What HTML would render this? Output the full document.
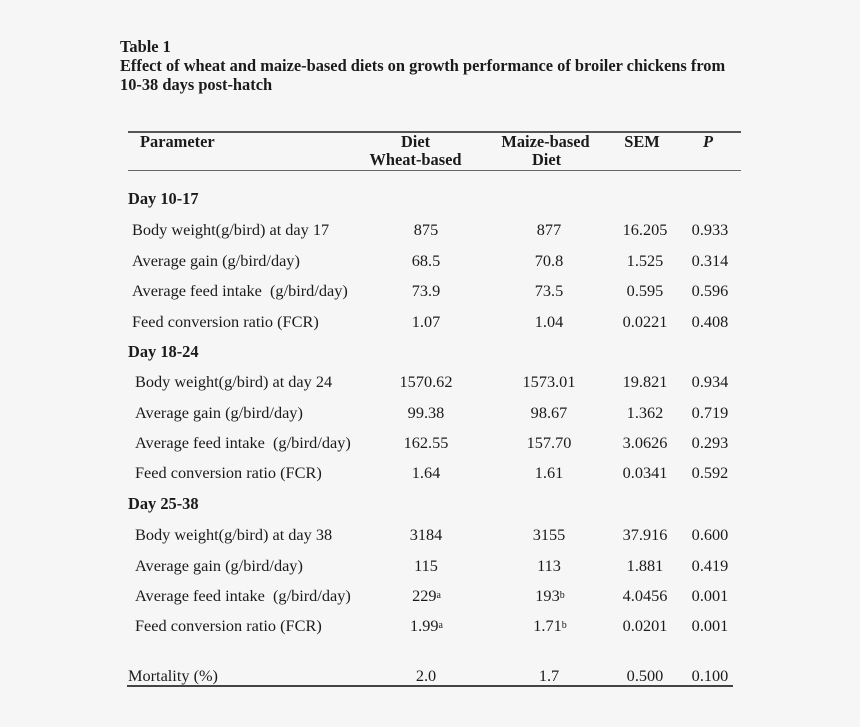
<!DOCTYPE html>
<html>
<head>
<meta charset="utf-8">
<style>
  html, body { margin:0; padding:0; }
  body { width:860px; height:727px; background:#f6f6f6; position:relative; overflow:hidden;
         font-family:"Liberation Serif", serif; color:#1b1b1b; }
  .t { position:absolute; white-space:nowrap; line-height:20px; font-size:16.3px; }
  .b { font-weight:bold; font-size:16.4px; }
  .c { transform:translateX(-50%); }
  .rule { position:absolute; }
  sup { font-size:10px; vertical-align:3px; line-height:0; }
</style>
</head>
<body>
<!-- Title -->
<div class="t b" style="left:120px; top:37px;">Table 1</div>
<div class="t b" style="left:120px; top:56px;">Effect of wheat and maize-based diets on growth performance of broiler chickens from</div>
<div class="t b" style="left:120px; top:75px;">10-38 days post-hatch</div>

<!-- Rules -->
<div class="rule" style="left:128px; top:131px; width:613px; height:1.6px; background:#555;"></div>
<div class="rule" style="left:128px; top:169.5px; width:613px; height:1.2px; background:#666;"></div>
<div class="rule" style="left:127px; top:685px; width:606px; height:2.4px; background:#444;"></div>

<!-- Header -->
<div class="t b" style="left:140px; top:132px;">Parameter</div>
<div class="t b c" style="left:415.5px; top:132px;">Diet</div>
<div class="t b c" style="left:415.5px; top:150px;">Wheat-based</div>
<div class="t b c" style="left:545.5px; top:132px;">Maize-based</div>
<div class="t b c" style="left:546.5px; top:150px;">Diet</div>
<div class="t b c" style="left:642px; top:132px;">SEM</div>
<div class="t b c" style="left:708px; top:132px; font-style:italic;">P</div>

<!-- Day 10-17 -->
<div class="t b" style="left:128px; top:189px;">Day 10-17</div>

<div class="t" style="left:132px; top:220px;">Body weight(g/bird) at day 17</div>
<div class="t c" style="left:426px; top:220px;">875</div>
<div class="t c" style="left:549px; top:220px;">877</div>
<div class="t c" style="left:645px; top:220px;">16.205</div>
<div class="t c" style="left:710px; top:220px;">0.933</div>

<div class="t" style="left:132px; top:251px;">Average gain (g/bird/day)</div>
<div class="t c" style="left:426px; top:251px;">68.5</div>
<div class="t c" style="left:549px; top:251px;">70.8</div>
<div class="t c" style="left:645px; top:251px;">1.525</div>
<div class="t c" style="left:710px; top:251px;">0.314</div>

<div class="t" style="left:132px; top:281px;">Average feed intake&nbsp; (g/bird/day)</div>
<div class="t c" style="left:426px; top:281px;">73.9</div>
<div class="t c" style="left:549px; top:281px;">73.5</div>
<div class="t c" style="left:645px; top:281px;">0.595</div>
<div class="t c" style="left:710px; top:281px;">0.596</div>

<div class="t" style="left:132px; top:311.5px;">Feed conversion ratio (FCR)</div>
<div class="t c" style="left:426px; top:311.5px;">1.07</div>
<div class="t c" style="left:549px; top:311.5px;">1.04</div>
<div class="t c" style="left:645px; top:311.5px;">0.0221</div>
<div class="t c" style="left:710px; top:311.5px;">0.408</div>

<!-- Day 18-24 -->
<div class="t b" style="left:128px; top:342px;">Day 18-24</div>

<div class="t" style="left:135px; top:372px;">Body weight(g/bird) at day 24</div>
<div class="t c" style="left:426px; top:372px;">1570.62</div>
<div class="t c" style="left:549px; top:372px;">1573.01</div>
<div class="t c" style="left:645px; top:372px;">19.821</div>
<div class="t c" style="left:710px; top:372px;">0.934</div>

<div class="t" style="left:135px; top:402.5px;">Average gain (g/bird/day)</div>
<div class="t c" style="left:426px; top:402.5px;">99.38</div>
<div class="t c" style="left:549px; top:402.5px;">98.67</div>
<div class="t c" style="left:645px; top:402.5px;">1.362</div>
<div class="t c" style="left:710px; top:402.5px;">0.719</div>

<div class="t" style="left:135px; top:433px;">Average feed intake&nbsp; (g/bird/day)</div>
<div class="t c" style="left:426px; top:433px;">162.55</div>
<div class="t c" style="left:549px; top:433px;">157.70</div>
<div class="t c" style="left:645px; top:433px;">3.0626</div>
<div class="t c" style="left:710px; top:433px;">0.293</div>

<div class="t" style="left:135px; top:463px;">Feed conversion ratio (FCR)</div>
<div class="t c" style="left:426px; top:463px;">1.64</div>
<div class="t c" style="left:549px; top:463px;">1.61</div>
<div class="t c" style="left:645px; top:463px;">0.0341</div>
<div class="t c" style="left:710px; top:463px;">0.592</div>

<!-- Day 25-38 -->
<div class="t b" style="left:128px; top:494px;">Day 25-38</div>

<div class="t" style="left:135px; top:525px;">Body weight(g/bird) at day 38</div>
<div class="t c" style="left:426px; top:525px;">3184</div>
<div class="t c" style="left:549px; top:525px;">3155</div>
<div class="t c" style="left:645px; top:525px;">37.916</div>
<div class="t c" style="left:710px; top:525px;">0.600</div>

<div class="t" style="left:135px; top:556px;">Average gain (g/bird/day)</div>
<div class="t c" style="left:426px; top:556px;">115</div>
<div class="t c" style="left:549px; top:556px;">113</div>
<div class="t c" style="left:645px; top:556px;">1.881</div>
<div class="t c" style="left:710px; top:556px;">0.419</div>

<div class="t" style="left:135px; top:586px;">Average feed intake&nbsp; (g/bird/day)</div>
<div class="t c" style="left:426.5px; top:586px;">229<sup>a</sup></div>
<div class="t c" style="left:550px; top:586px;">193<sup>b</sup></div>
<div class="t c" style="left:645px; top:586px;">4.0456</div>
<div class="t c" style="left:710px; top:586px;">0.001</div>

<div class="t" style="left:135px; top:616px;">Feed conversion ratio (FCR)</div>
<div class="t c" style="left:426.5px; top:616px;">1.99<sup>a</sup></div>
<div class="t c" style="left:550px; top:616px;">1.71<sup>b</sup></div>
<div class="t c" style="left:645px; top:616px;">0.0201</div>
<div class="t c" style="left:710px; top:616px;">0.001</div>

<!-- Mortality -->
<div class="t" style="left:128px; top:666px;">Mortality (%)</div>
<div class="t c" style="left:426px; top:666px;">2.0</div>
<div class="t c" style="left:549px; top:666px;">1.7</div>
<div class="t c" style="left:645px; top:666px;">0.500</div>
<div class="t c" style="left:710px; top:666px;">0.100</div>
</body>
</html>
